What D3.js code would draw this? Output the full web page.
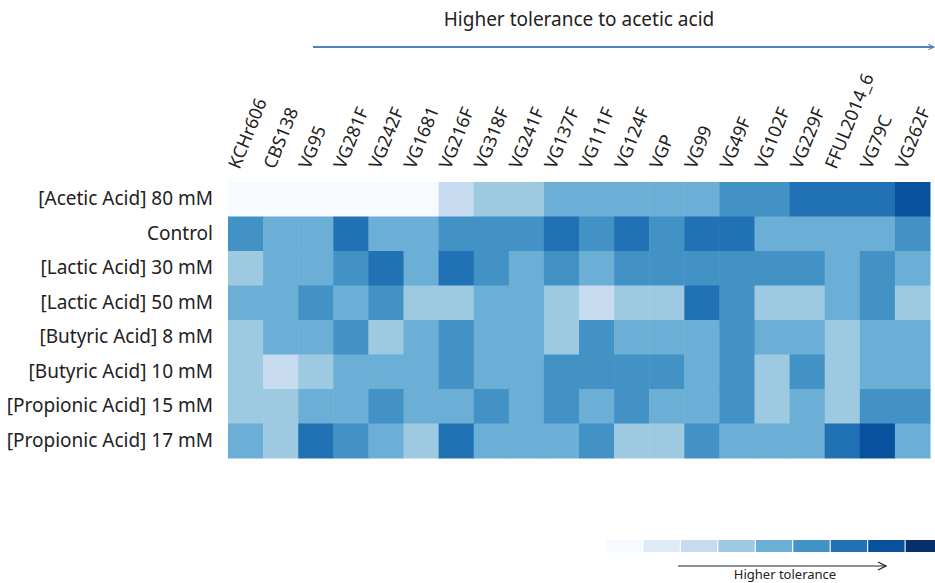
<!DOCTYPE html>
<html>
<head>
<meta charset="utf-8">
<script src="https://cdn.jsdelivr.net/npm/d3@7"></script>
<style>
  body { margin: 0; background: #fff; }
  text { font-family: "Noto Sans", "Open Sans", sans-serif; fill: #222; }
</style>
</head>
<body>
<div class="canvas"></div>
<script>
// strains, ordered by tolerance to acetic acid
const strains = ["KCHr606","CBS138","VG95","VG281F","VG242F","VG1681","VG216F","VG318F",
  "VG241F","VG137F","VG111F","VG124F","VGP","VG99","VG49F","VG102F","VG229F",
  "FFUL2014_6","VG79C","VG262F"];

const conditions = ["[Acetic Acid] 80 mM","Control","[Lactic Acid] 30 mM","[Lactic Acid] 50 mM",
  "[Butyric Acid] 8 mM","[Butyric Acid] 10 mM","[Propionic Acid] 15 mM","[Propionic Acid] 17 mM"];

// tolerance level (1 = lowest ... 9 = highest), one array per condition
const acetic80     = [1,1,1,1,1,1,3,4,4,5,5,5,5,5,6,6,7,7,7,8];
const control      = [6,5,5,7,5,5,6,6,6,7,6,7,6,7,7,5,5,5,5,6];
const lactic30     = [4,5,5,6,7,5,7,6,5,6,5,6,6,6,6,6,6,5,6,5];
const lactic50     = [5,5,6,5,6,4,4,5,5,4,3,4,4,7,6,4,4,5,6,4];
const butyric8     = [4,5,5,6,4,5,6,5,5,4,6,5,5,5,6,5,5,4,5,5];
const butyric10    = [4,3,4,5,5,5,6,5,5,6,6,6,6,5,6,4,6,4,5,5];
const propionic15  = [4,4,5,5,6,5,5,6,5,6,5,6,5,5,6,4,5,4,6,6];
const propionic17  = [5,4,7,6,5,4,7,5,5,5,6,4,4,6,5,5,5,7,8,5];

const levels = [1,2,3,4,5,6,7,8,9];

const rows = [acetic80, control, lactic30, lactic50, butyric8, butyric10, propionic15, propionic17];

const cells = [];
rows.forEach((row, i) => {
  row.forEach((v, j) => cells.push({condition: conditions[i], strain: strains[j], level: v}));
});

const svgWidth = 935;
const svgHeight = 583;

const svg = d3.select('.canvas')
  .append('svg')
    .attr('width', svgWidth)
    .attr('height', svgHeight);

const x = d3.scaleBand().domain(strains).range([228, 930]);
const y = d3.scaleBand().domain(conditions).range([182, 458]);

const color = d3.scaleOrdinal()
  .domain(levels)
  .range(d3.schemeBlues[9]);

// heatmap cells
svg.append('g')
  .selectAll('rect')
  .data(cells)
  .enter()
  .append('rect')
    .attr('x', d => x(d.strain))
    .attr('y', d => y(d.condition))
    .attr('width', x.bandwidth() + 0.5)
    .attr('height', y.bandwidth() + 0.5)
    .attr('fill', d => color(d.level));

// row labels
const yAxis = svg.append('g')
  .attr('transform', 'translate(228,0)')
  .call(d3.axisLeft(y).tickSize(0).tickPadding(15));
yAxis.select('.domain').remove();
yAxis.selectAll('text')
  .style('font-family', '"Noto Sans", sans-serif')
  .style('font-size', '19px')
  .attr('fill', '#222');

// strain labels, rotated
const xAxis = svg.append('g')
  .attr('transform', 'translate(0,182)')
  .call(d3.axisTop(x).tickSize(0));
xAxis.select('.domain').remove();
xAxis.selectAll('text')
  .attr('x', 0)
  .attr('y', 0)
  .attr('dy', 0)
  .attr('text-anchor', 'start')
  .attr('transform', 'translate(-6,-12) rotate(-68)')
  .style('font-family', '"Noto Sans", sans-serif')
  .style('font-size', '18px')
  .attr('fill', '#222');

// arrow markers
const defs = svg.append('defs');
defs.append('marker')
    .attr('id', 'blueHead')
    .attr('viewBox', '0 0 10 10')
    .attr('refX', 9).attr('refY', 5)
    .attr('markerWidth', 7).attr('markerHeight', 7)
    .attr('markerUnits', 'userSpaceOnUse')
    .attr('orient', 'auto')
  .append('path')
    .attr('d', 'M1,1 L9,5 L1,9')
    .attr('fill', 'none')
    .attr('stroke', '#4f81bd')
    .attr('stroke-width', 1.5);
defs.append('marker')
    .attr('id', 'blackHead')
    .attr('viewBox', '0 0 10 10')
    .attr('refX', 9).attr('refY', 5)
    .attr('markerWidth', 10).attr('markerHeight', 10)
    .attr('markerUnits', 'userSpaceOnUse')
    .attr('orient', 'auto')
  .append('path')
    .attr('d', 'M1,1 L9,5 L1,9')
    .attr('fill', 'none')
    .attr('stroke', '#222')
    .attr('stroke-width', 1.2);

// top annotation
svg.append('text')
  .attr('x', 579)
  .attr('y', 26)
  .attr('text-anchor', 'middle')
  .style('font-size', '19px')
  .text('Higher tolerance to acetic acid');

svg.append('line')
  .attr('x1', 313).attr('x2', 934)
  .attr('y1', 47).attr('y2', 47)
  .attr('stroke', '#4f81bd')
  .attr('stroke-width', 1.8)
  .attr('marker-end', 'url(#blueHead)');

// colour legend
const legendX = d3.scaleBand().domain(levels).range([606, 942]).paddingInner(0.03);
svg.append('g')
  .selectAll('rect')
  .data(levels)
  .enter()
  .append('rect')
    .attr('x', d => legendX(d))
    .attr('y', 540)
    .attr('width', legendX.bandwidth())
    .attr('height', 12)
    .attr('fill', d => color(d));

svg.append('line')
  .attr('x1', 678).attr('x2', 886)
  .attr('y1', 566).attr('y2', 566)
  .attr('stroke', '#222')
  .attr('stroke-width', 1.2)
  .attr('marker-end', 'url(#blackHead)');

svg.append('text')
  .attr('x', 785)
  .attr('y', 579)
  .attr('text-anchor', 'middle')
  .style('font-size', '13px')
  .text('Higher tolerance');
</script>
</body>
</html>
